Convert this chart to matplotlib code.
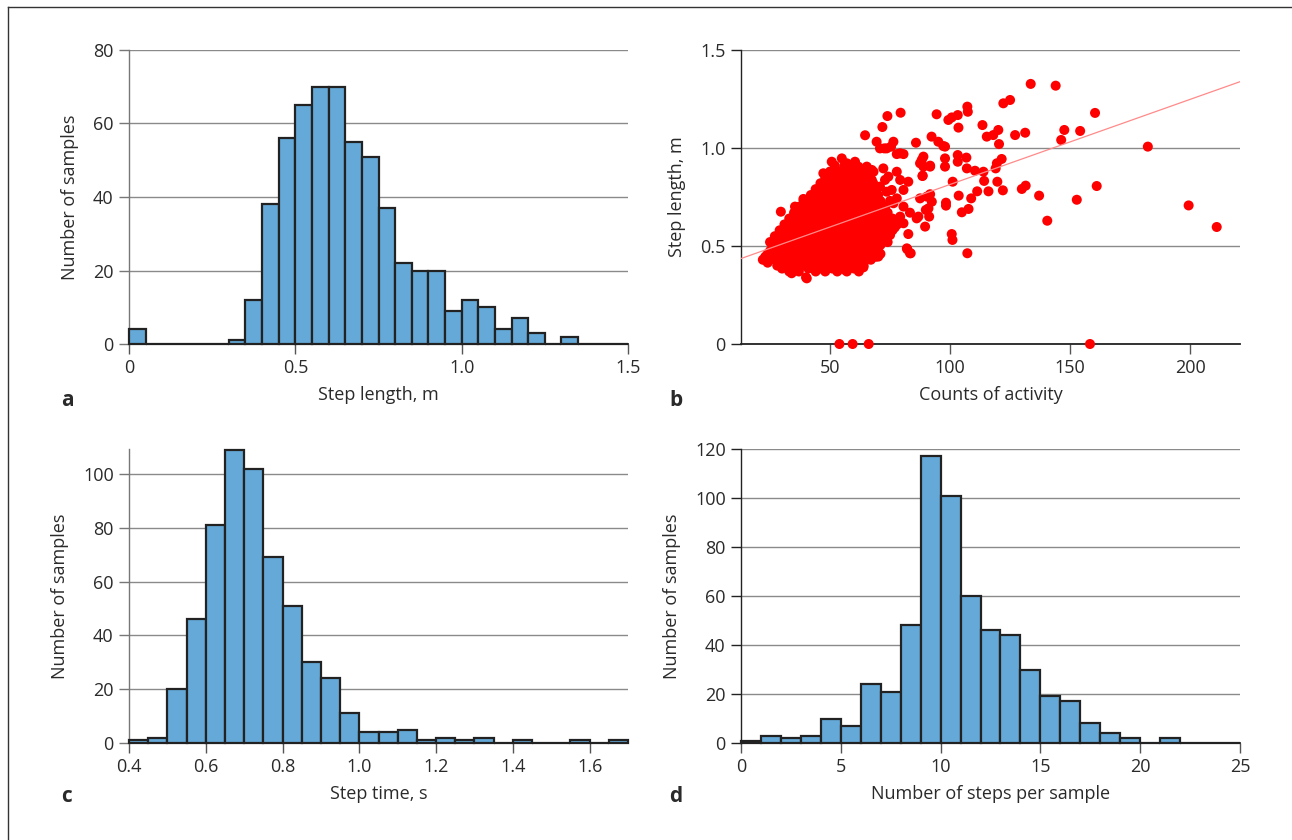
import matplotlib
matplotlib.use("Agg")
import matplotlib.pyplot as plt
from matplotlib.lines import Line2D
import numpy as np

plt.rcParams['font.family'] = ['Open Sans', 'DejaVu Sans']

# ---------------- data ----------------
# a: step length histogram (bin width 0.05, 0..1.5)
a_edges_start = 0.0
a_bin_width = 0.05
a_counts = [4, 0, 0, 0, 0, 0, 1, 12, 38, 56, 65, 70, 70, 55, 51, 37, 22, 20, 20, 9,
            12, 10, 4, 7, 3, 0, 2, 0, 0, 0]

# c: step time histogram (bin width 0.05, 0.4..1.7)
c_edges_start = 0.4
c_bin_width = 0.05
c_counts = [1, 2, 20, 46, 81, 109, 102, 69, 51, 30, 24, 11, 4, 4, 5, 1, 2, 1, 2, 0,
            1, 0, 0, 1, 0, 1]

# d: steps per sample histogram (bin width 1, 0..25)
d_edges_start = 0
d_bin_width = 1
d_counts = [1, 3, 2, 3, 10, 7, 24, 21, 48, 117, 101, 60, 46, 44, 30, 19, 17, 8, 4, 2,
            0, 2, 0, 0, 0]

# b: scatter, counts of activity vs step length
# dense core, rows of (step length: activity counts)
b_core_rows = {
    0.34: [40],
    0.37: [33, 37, 44, 48, 53, 57, 62],
    0.385: [30, 35, 41, 46, 51, 55, 60],
    0.40: [28, 31, 35, 39, 42, 46, 50, 54, 58, 61, 64],
    0.415: [24, 30, 33, 37, 41, 44, 48, 52, 56, 60, 63],
    0.43: [22, 25, 28, 32, 36, 40, 43, 47, 51, 55, 59, 63, 67],
    0.445: [23, 26, 30, 34, 38, 42, 45, 49, 53, 57, 61, 65, 69],
    0.46: [24, 27, 30, 34, 37, 41, 45, 49, 52, 56, 60, 64, 68, 71],
    0.475: [25, 28, 31, 35, 38, 43, 47, 51, 54, 58, 62, 66, 70],
    0.49: [26, 29, 32, 36, 39, 43, 46, 50, 54, 58, 61, 65, 69],
    0.505: [27, 30, 34, 37, 41, 44, 48, 52, 55, 59, 62, 67, 71],
    0.52: [25, 28, 31, 35, 38, 42, 45, 49, 53, 56, 60, 63, 67, 71, 74],
    0.535: [29, 33, 36, 40, 43, 47, 51, 54, 58, 61, 65, 69, 72],
    0.55: [27, 30, 33, 37, 40, 44, 47, 51, 55, 58, 62, 66, 70, 73],
    0.565: [31, 35, 38, 42, 45, 49, 52, 56, 59, 64, 68, 71, 75],
    0.58: [29, 32, 36, 39, 43, 46, 50, 53, 57, 60, 64, 68, 72, 76],
    0.595: [33, 37, 40, 44, 47, 51, 54, 58, 61, 65, 69, 73, 77],
    0.61: [31, 34, 38, 41, 45, 48, 52, 55, 59, 63, 66, 70, 74, 78],
    0.625: [35, 39, 42, 46, 49, 53, 56, 60, 64, 67, 71, 75],
    0.64: [33, 36, 40, 43, 47, 50, 54, 57, 61, 65, 68, 72, 76],
    0.655: [37, 41, 44, 48, 51, 55, 58, 62, 66, 69, 73],
    0.67: [35, 38, 42, 45, 49, 52, 56, 59, 63, 67, 70, 74],
    0.685: [39, 43, 46, 50, 53, 57, 60, 64, 68, 71],
    0.70: [37, 40, 44, 47, 51, 54, 58, 62, 65, 69, 73],
    0.715: [41, 45, 48, 52, 55, 59, 63, 66, 70],
    0.73: [39, 43, 46, 50, 53, 57, 60, 64, 68, 71, 75],
    0.745: [44, 47, 51, 54, 58, 61, 65, 69],
    0.76: [42, 45, 49, 52, 56, 59, 63, 66, 70],
    0.775: [46, 50, 53, 57, 60, 64, 67],
    0.79: [44, 47, 51, 55, 58, 62, 65, 69],
    0.805: [49, 52, 56, 59, 63, 66],
    0.82: [46, 50, 53, 57, 60, 64, 68],
    0.835: [51, 54, 58, 61, 65],
    0.85: [48, 52, 55, 59, 63, 66],
    0.865: [53, 56, 60, 64],
    0.88: [50, 54, 58, 62],
    0.91: [52, 56, 60],
}
# scattered points outside the core
b_x_extra = [133.6, 144.0, 122.2, 125.0, 107.2, 107.4, 94.4, 99.3, 100.7, 103.2,
             103.5, 113.5, 115.3, 118.0, 120.1, 120.4, 127.1, 131.3, 160.4, 147.6,
             154.2, 146.3, 182.4, 161.1, 152.8, 199.4, 211.1, 140.5, 137.1, 129.9,
             131.5, 122.0, 119.7, 116.0, 114.2, 121.5, 119.5, 119.0, 113.9, 110.4,
             111.3, 108.8, 107.7, 104.9, 103.6, 107.2, 100.7, 101.0, 98.3, 98.3,
             101.1, 106.8, 103.2, 103.2, 107.0, 97.9, 97.9, 97.9, 92.3, 95.1,
             97.2, 85.8, 88.9, 87.5, 91.7, 88.6, 87.5, 91.7, 92.4, 89.9,
             91.3, 89.6, 86.1, 82.6, 82.2, 83.3, 79.4, 73.9, 71.8, 64.6,
             69.4, 72.6, 76.4, 75.4, 77.8, 80.6, 29.5, 22.9, 40.3, 63.9,
             53.9, 59.4, 66.1, 158.3,
             70.8, 73.6, 79.2, 88.2, 88.9, 91.7, 88.5, 90.3, 91.0, 86.8,
             83.3, 82.0, 83.6, 80.6, 77.8, 76.4, 79.2, 80.6, 76.4, 75.0,
             82.6, 80.6, 79.2, 77.8, 74.3, 72.2, 68.1, 67.4, 70.8, 73.6,
             75.7, 54.9, 50.7, 57.0, 60.4, 61.8, 65.3, 58.3, 55.6, 54.2,
             61.1, 62.5, 50.0, 35.4, 38.9, 38.2, 42.4, 44.4, 48.6, 47.2,
             28.5, 34.0, 49.3, 56.3, 70.1, 72.9, 67.4, 60.4, 31.3, 28.0]
b_y_extra = [1.327, 1.318, 1.228, 1.245, 1.211, 1.185, 1.172, 1.143, 1.156, 1.168,
             1.104, 1.117, 1.058, 1.066, 1.092, 1.020, 1.066, 1.078, 1.179, 1.092,
             1.087, 1.041, 1.007, 0.806, 0.736, 0.707, 0.597, 0.629, 0.757, 0.791,
             0.808, 0.784, 0.828, 0.779, 0.832, 0.944, 0.922, 0.896, 0.879, 0.884,
             0.779, 0.743, 0.689, 0.672, 0.757, 0.463, 0.561, 0.531, 0.721, 0.706,
             0.828, 0.951, 0.964, 0.930, 0.896, 1.007, 0.947, 0.905, 1.058, 1.032,
             1.010, 1.027, 0.956, 0.922, 0.910, 0.859, 0.743, 0.764, 0.726, 0.684,
             0.650, 0.599, 0.641, 0.561, 0.483, 0.463, 1.180, 1.163, 1.107, 1.065,
             1.032, 0.998, 1.032, 1.007, 0.969, 0.969, 0.675, 0.429, 0.335, 0.391,
             0.0, 0.0, 0.0, 0.0,
             0.998, 0.998, 0.973, 0.939, 0.905, 0.905, 0.857, 0.752, 0.692, 0.650,
             0.670, 0.488, 0.463, 0.701, 0.743, 0.718, 0.650, 0.616, 0.599, 0.556,
             0.828, 0.786, 0.837, 0.879, 0.854, 0.896, 0.879, 0.837, 0.803, 0.777,
             0.786, 0.947, 0.930, 0.922, 0.930, 0.905, 0.905, 0.871, 0.854, 0.820,
             0.837, 0.803, 0.871, 0.701, 0.740, 0.667, 0.718, 0.769, 0.803, 0.871,
             0.429, 0.361, 0.386, 0.378, 0.446, 0.837, 0.888, 0.922, 0.582, 0.505]
b_fit_intercept = 0.380
b_fit_slope = 0.00434

# ---------------- style ----------------
W, H = 1292, 840
BAR_FC = '#64a9d7'
BAR_EC = '#222222'
GRID_C = '#8a8a8a'
TXT_C = '#2a2a2a'
FS_TICK = 13
FS_LAB = 13

fig = plt.figure(figsize=(W / 100, H / 100), dpi=100)


def make_ax(left, right, top, bottom):
    return fig.add_axes([left / W, 1 - bottom / H, (right - left) / W, (bottom - top) / H])


def style(ax, yspine_color):
    for s in ['top', 'right']:
        ax.spines[s].set_visible(False)
    ax.spines['left'].set_color(yspine_color)
    ax.spines['left'].set_linewidth(1.0)
    ax.spines['bottom'].set_color('#222222')
    ax.spines['bottom'].set_linewidth(1.3)
    ax.yaxis.grid(True, color=GRID_C, linewidth=1.0)
    ax.set_axisbelow(True)
    ax.tick_params(axis='both', direction='out', length=7, width=1.0,
                   labelsize=FS_TICK, labelcolor=TXT_C, pad=4)
    ax.tick_params(axis='y', color=yspine_color)
    ax.tick_params(axis='x', color='#555555')


def hist_bars(ax, start, width, counts):
    lefts = [start + i * width for i in range(len(counts))]
    ax.bar(lefts, counts, width=width, align='edge', color=BAR_FC,
           edgecolor=BAR_EC, linewidth=1.6, zorder=3, clip_on=False)


# ---- panel a ----
axa = make_ax(129, 628, 50, 344)
hist_bars(axa, a_edges_start, a_bin_width, a_counts)
axa.set_xlim(0, 1.5)
axa.set_ylim(0, 80)
axa.set_xticks([0, 0.5, 1.0, 1.5])
axa.set_xticklabels(['0', '0.5', '1.0', '1.5'])
axa.set_yticks([0, 20, 40, 60, 80])
style(axa, '#777777')
axa.set_xlabel('Step length, m', fontsize=FS_LAB, color=TXT_C, labelpad=6)
axa.set_ylabel('Number of samples', fontsize=FS_LAB, color=TXT_C, labelpad=10)

# ---- panel b ----
axb = make_ax(741, 1240, 50, 344)
bx = [x for yv, xs in b_core_rows.items() for x in xs] + b_x_extra
by = [yv for yv, xs in b_core_rows.items() for x in xs] + b_y_extra
axb.scatter(bx, by, s=52, color='#ff0000', edgecolors='none', zorder=3, clip_on=False)
xl = (12.9, 220.8)
axb.plot(xl, [b_fit_intercept + b_fit_slope * v for v in xl], color='#ff8a8a',
         linewidth=0.9, zorder=4)
axb.set_xlim(*xl)
axb.set_ylim(0, 1.5)
axb.set_xticks([50, 100, 150, 200])
axb.set_yticks([0, 0.5, 1.0, 1.5])
axb.set_yticklabels(['0', '0.5', '1.0', '1.5'])
style(axb, '#222222')
axb.set_xlabel('Counts of activity', fontsize=FS_LAB, color=TXT_C, labelpad=6)
axb.set_ylabel('Step length, m', fontsize=FS_LAB, color=TXT_C, labelpad=10)

# ---- panel c ----
axc = make_ax(129, 628, 449, 743)
hist_bars(axc, c_edges_start, c_bin_width, c_counts)
axc.set_xlim(0.4, 1.7)
axc.set_ylim(0, 109.3)
axc.set_xticks([0.4, 0.6, 0.8, 1.0, 1.2, 1.4, 1.6])
axc.set_xticklabels(['0.4', '0.6', '0.8', '1.0', '1.2', '1.4', '1.6'])
axc.set_yticks([0, 20, 40, 60, 80, 100])
style(axc, '#777777')
axc.set_xlabel('Step time, s', fontsize=FS_LAB, color=TXT_C, labelpad=6)
axc.set_ylabel('Number of samples', fontsize=FS_LAB, color=TXT_C, labelpad=10)

# ---- panel d ----
axd = make_ax(741, 1240, 449, 743)
hist_bars(axd, d_edges_start, d_bin_width, d_counts)
axd.set_xlim(0, 25)
axd.set_ylim(0, 120)
axd.set_xticks([0, 5, 10, 15, 20, 25])
axd.set_yticks([0, 20, 40, 60, 80, 100, 120])
style(axd, '#222222')
axd.set_xlabel('Number of steps per sample', fontsize=FS_LAB, color=TXT_C, labelpad=6)
axd.set_ylabel('Number of samples', fontsize=FS_LAB, color=TXT_C, labelpad=10)

# panel letters
for lab, (px, py) in zip('abcd', [(67, 400), (676, 400), (67, 797), (676, 797)]):
    fig.text(px / W, 1 - py / H, lab, fontsize=15, fontweight='bold',
             color=TXT_C, ha='center', va='center')

# outer frame (top and left edges)
fig.add_artist(Line2D([8 / W, 1.0], [1 - 7 / H, 1 - 7 / H], transform=fig.transFigure,
                      color='#333333', linewidth=1.0))
fig.add_artist(Line2D([8 / W, 8 / W], [1 - 7 / H, 0.0], transform=fig.transFigure,
                      color='#333333', linewidth=1.0))

fig.savefig('out.png', dpi=100)
